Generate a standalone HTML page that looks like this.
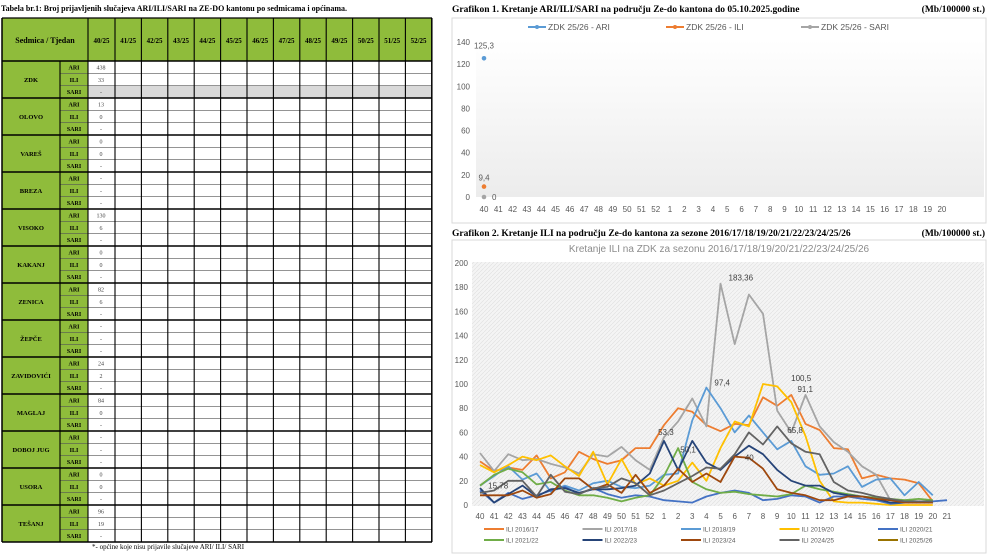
<!DOCTYPE html>
<html><head><meta charset="utf-8">
<style>
html,body{margin:0;padding:0;background:#fff;width:990px;height:556px;overflow:hidden}
svg{display:block}
</style></head>
<body>
<svg id="s" width="990" height="556" xmlns="http://www.w3.org/2000/svg" font-family="Liberation Serif, serif">
<defs>
<pattern id="hatch" width="4" height="4" patternUnits="userSpaceOnUse">
<rect width="4" height="4" fill="#f4f4f4"/><path d="M0,4 L4,0" stroke="#e2e2e2" stroke-width="0.7"/>
</pattern>
<linearGradient id="g1" x1="0" y1="0" x2="0" y2="1"><stop offset="0" stop-color="#fff"/><stop offset="1" stop-color="#ececec"/></linearGradient>
</defs>
<text x="1" y="11" font-size="8" font-weight="bold">Tabela br.1: Broj prijavljenih slučajeva ARI/ILI/SARI na ZE-DO kantonu po sedmicama i općinama.</text>
<g id="tbl"></g>
<text x="92" y="549" font-size="7">*- općine koje nisu prijavile slučajeve ARI/ ILI/ SARI</text>

<text x="452" y="12" font-size="9.5" font-weight="bold">Grafikon 1. Kretanje ARI/ILI/SARI na području Ze-do kantona do 05.10.2025.godine</text>
<text x="985" y="12" font-size="9.5" font-weight="bold" text-anchor="end">(Mb/100000 st.)</text>
<rect x="452" y="18" width="534" height="205" fill="#fff" stroke="#d9d9d9"/>
<rect x="476" y="40" width="508" height="157" fill="url(#g1)"/>
<g id="c1"></g>

<text x="452" y="236" font-size="9.5" font-weight="bold">Grafikon 2. Kretanje ILI na području Ze-do kantona za sezone 2016/17/18/19/20/21/22/23/24/25/26</text>
<text x="985" y="236" font-size="9.5" font-weight="bold" text-anchor="end">(Mb/100000 st.)</text>
<rect x="452" y="240" width="534" height="313" fill="#fff" stroke="#d9d9d9"/>
<text x="719" y="252" font-size="10" fill="#8c8c8c" text-anchor="middle" font-family="Liberation Sans, sans-serif">Kretanje ILI na ZDK za sezonu 2016/17/18/19/20/21/22/23/24/25/26</text>
<rect x="472" y="262" width="512" height="244" fill="url(#hatch)"/>
<g id="c2"></g>
</svg>
<script>
(function(){
const NS="http://www.w3.org/2000/svg";
function el(p,t,a,txt){const e=document.createElementNS(NS,t);for(const k in a)e.setAttribute(k,a[k]);if(txt!==undefined)e.textContent=txt;p.appendChild(e);return e;}
const T=document.getElementById('tbl');
const green="#8fbc3b";
const colX=[2,60,88,115];for(let i=1;i<=12;i++)colX.push(115+i*26.4);
const topY=18,hb=61,gh=37,rh=gh/3;
const groups=[["ZDK",["438","33","-"]],["OLOVO",["13","0","-"]],["VAREŠ",["0","0","-"]],["BREZA",["-","-","-"]],["VISOKO",["130","6","-"]],["KAKANJ",["0","0","-"]],["ZENICA",["82","6","-"]],["ŽEPČE",["-","-","-"]],["ZAVIDOVIĆI",["24","2","-"]],["MAGLAJ",["84","0","-"]],["DOBOJ JUG",["-","-","-"]],["USORA",["0","0","-"]],["TEŠANJ",["96","19","-"]]];
const bot=hb+gh*13;
el(T,'rect',{x:2,y:topY,width:430,height:hb-topY,fill:green});
el(T,'rect',{x:2,y:hb,width:86,height:bot-hb,fill:green});
el(T,'rect',{x:88,y:hb+2*rh,width:344,height:rh,fill:"#d9d9d9"});
el(T,'text',{x:45,y:43,'font-size':8,'font-weight':'bold','text-anchor':'middle'},"Sedmica  / Tjedan");
const wk=["40/25","41/25","42/25","43/25","44/25","45/25","46/25","47/25","48/25","49/25","50/25","51/25","52/25"];
wk.forEach((w,i)=>el(T,'text',{x:(colX[i+2]+colX[i+3])/2,y:43,'font-size':7,'font-weight':'bold','text-anchor':'middle'},w));
groups.forEach((g,gi)=>{const y0=hb+gi*gh;
 el(T,'text',{x:31,y:y0+gh/2+2.5,'font-size':6.5,'font-weight':'bold','text-anchor':'middle'},g[0]);
 ["ARI","ILI","SARI"].forEach((t,r)=>{const y=y0+r*rh;
  el(T,'text',{x:74,y:y+rh/2+2.3,'font-size':6,'font-weight':'bold','text-anchor':'middle'},t);
  el(T,'text',{x:101,y:y+rh/2+2.3,'font-size':6,'text-anchor':'middle',fill:'#444'},g[1][r]);
  if(r>0)el(T,'line',{x1:60,x2:432,y1:y,y2:y,stroke:'#555','stroke-width':0.6});
 });
 el(T,'line',{x1:2,x2:432,y1:y0,y2:y0,stroke:'#000','stroke-width':1.5});
});
el(T,'line',{x1:2,x2:432,y1:bot,y2:bot,stroke:'#000','stroke-width':1.5});
el(T,'line',{x1:2,x2:432,y1:topY,y2:topY,stroke:'#000','stroke-width':1.2});
colX.forEach((x,i)=>{el(T,'line',{x1:x,x2:x,y1:i==1?hb:topY,y2:bot,stroke:'#000','stroke-width':i==0||i==colX.length-1?1.5:1.1});});

const C1=document.getElementById('c1');
const lab1=[];for(let i=40;i<=52;i++)lab1.push(i);for(let i=1;i<=20;i++)lab1.push(i);
const x1=i=>484+i*14.31,y1=v=>197-v*1.107;
for(let v=0;v<=140;v+=20)el(C1,'text',{x:470,y:y1(v)+3,'font-size':8,fill:'#595959','text-anchor':'end','font-family':'Liberation Sans, sans-serif'},v);
lab1.forEach((l,i)=>el(C1,'text',{x:x1(i),y:212,'font-size':8,fill:'#595959','text-anchor':'middle','font-family':'Liberation Sans, sans-serif'},l));
[["ZDK 25/26 - ARI","#5b9bd5",528],["ZDK 25/26 - ILI","#ed7d31",666],["ZDK 25/26 - SARI","#a5a5a5",801]].forEach(a=>{
 el(C1,'line',{x1:a[2],x2:a[2]+18,y1:27,y2:27,stroke:a[1],'stroke-width':2});el(C1,'circle',{cx:a[2]+9,cy:27,r:2,fill:a[1]});
 el(C1,'text',{x:a[2]+20,y:30,'font-size':8.5,fill:'#595959','font-family':'Liberation Sans, sans-serif'},a[0]);});
el(C1,'circle',{cx:x1(0),cy:y1(125.3),r:2.3,fill:'#5b9bd5'});
el(C1,'circle',{cx:x1(0),cy:y1(9.4),r:2.3,fill:'#ed7d31'});
el(C1,'circle',{cx:x1(0),cy:y1(0),r:2.3,fill:'#a5a5a5'});
el(C1,'text',{x:x1(0),y:y1(125.3)-10,'font-size':8,fill:'#595959','text-anchor':'middle','font-family':'Liberation Sans, sans-serif'},"125,3");
el(C1,'text',{x:x1(0),y:y1(9.4)-6,'font-size':8,fill:'#595959','text-anchor':'middle','font-family':'Liberation Sans, sans-serif'},"9,4");
el(C1,'text',{x:x1(0)+8,y:y1(0)+3,'font-size':8,fill:'#595959','font-family':'Liberation Sans, sans-serif'},"0");

const C2=document.getElementById('c2');
const lab2=[];for(let i=40;i<=52;i++)lab2.push(i);for(let i=1;i<=21;i++)lab2.push(i);
const x2=i=>480+i*14.15,y2=v=>505-v*1.21;
for(let v=0;v<=200;v+=20)el(C2,'text',{x:468,y:y2(v)+3,'font-size':8,fill:'#595959','text-anchor':'end','font-family':'Liberation Sans, sans-serif'},v);
lab2.forEach((l,i)=>el(C2,'text',{x:x2(i),y:519,'font-size':8,fill:'#595959','text-anchor':'middle','font-family':'Liberation Sans, sans-serif'},l));
const S=[
["ILI 2016/17","#ed7d31",[36,28,31,29,41,22,27,44,38,34,37,47,47,66,80,77,66,61,67,66,89,82,91,67,62,47,46,22,25,22,21,18,3]],
["ILI 2017/18","#a5a5a5",[43,28,42,37,38,34,31,26,42,40,48,37,29,56,69,88,65,183,133,174,158,78,60,91,65,52,44,32,25,4,4,3,3]],
["ILI 2018/19","#5b9bd5",[16,24,32,21,26,11,16,12,18,20,15,14,16,25,26,70,97,80,60,74,60,46,53,32,25,26,32,15,21,22,8,19,8]],
["ILI 2019/20","#ffc000",[33,27,33,40,37,41,32,24,44,17,38,17,22,16,20,35,20,47,69,65,100,98,85,57,20,3,2,2,1,0,0,0,0]],
["ILI 2020/21","#4472c4",[12,2,10,5,8,12,15,9,14,9,6,8,7,4,3,2,7,10,12,10,4,5,8,7,2,7,7,5,4,1,2,3,3,4]],
["ILI 2021/22","#70ad47",[16,25,30,27,17,19,12,8,8,6,3,6,8,24,47,19,13,10,11,9,8,7,9,16,13,11,9,7,6,5,4,5,4]],
["ILI 2022/23","#264478",[14,2,9,16,7,13,14,10,13,13,14,16,26,53,29,53,35,29,40,49,42,29,20,16,16,10,8,7,5,2,2,2,2]],
["ILI 2023/24","#9e480e",[8,8,8,12,6,9,22,22,13,17,10,25,10,16,30,19,26,19,40,39,30,13,10,8,4,4,7,7,5,4,2,2,2]],
["ILI 2024/25","#636363",[10,12,20,20,7,25,11,9,14,15,22,18,8,12,18,24,31,30,42,60,50,65,51,44,42,19,12,10,7,5,3,3,3]],
["ILI 2025/26","#997300",[9.4]]];
S.forEach((s,k)=>{
 const pts=s[2].map((v,i)=>x2(i).toFixed(1)+","+y2(v).toFixed(1)).join(" ");
 if(s[2].length>1)el(C2,'polyline',{points:pts,fill:'none',stroke:s[1],'stroke-width':1.8,'stroke-linejoin':'round'});
 const col=k%5,row=Math.floor(k/5),lx=484+col*98.5,ly=row?540:529;
 el(C2,'line',{x1:lx,x2:lx+20,y1:ly,y2:ly,stroke:s[1],'stroke-width':2});
 el(C2,'text',{x:lx+22,y:ly+2.5,'font-size':6.5,fill:'#595959','font-family':'Liberation Sans, sans-serif'},s[0]);
});
const L=[["183,36",17,183,8,-3],["97,4",16,97,8,-2],["100,5",21,100,14,-3],["91,1",23,91,-8,-3],["65,8",22,66,-4,8],["53,3",14,53,-20,-6],["50,1",15,50,-12,8],["40",19,40,-4,4],["15,78",1,12,-6,-2]];
L.forEach(a=>el(C2,'text',{x:x2(a[1])+a[3],y:y2(a[2])+a[4],'font-size':8,fill:'#404040','font-family':'Liberation Sans, sans-serif'},a[0]));
})();
</script>
</body></html>
